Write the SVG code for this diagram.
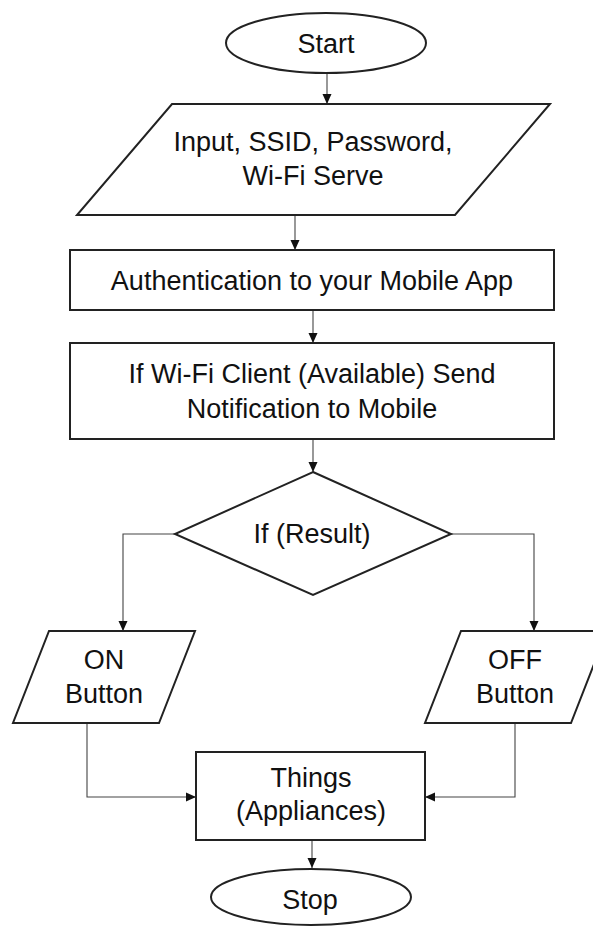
<svg xmlns="http://www.w3.org/2000/svg" width="593" height="926" viewBox="0 0 593 926">
<style>
.s{fill:#fff;stroke:#222;stroke-width:2}
.t{font-family:"Liberation Sans",Arial,sans-serif;font-size:27px;fill:#111;text-anchor:middle}
.c{fill:none;stroke:#444;stroke-width:1.1}
</style>
<defs>
<marker id="ah" markerWidth="12" markerHeight="12" refX="10" refY="5.5" orient="auto" markerUnits="userSpaceOnUse">
<path d="M0,1 L10,5.5 L0,10 Z" fill="#111"/>
</marker>
</defs>
<rect width="593" height="926" fill="#fff"/>
<g id="connectors">
<path class="c" d="M327,73 V104" marker-end="url(#ah)"/>
<path class="c" d="M295,215 V250" marker-end="url(#ah)"/>
<path class="c" d="M313,310 V343" marker-end="url(#ah)"/>
<path class="c" d="M313,439 V472" marker-end="url(#ah)"/>
<path class="c" d="M175,534 H123 V631" marker-end="url(#ah)"/>
<path class="c" d="M451,534 H534 V631" marker-end="url(#ah)"/>
<path class="c" d="M87,723 V797 H196" marker-end="url(#ah)"/>
<path class="c" d="M515,723 V797 H425" marker-end="url(#ah)"/>
<path class="c" d="M312,840 V868" marker-end="url(#ah)"/>
</g>
<g id="start">
<ellipse class="s" cx="326" cy="43" rx="100" ry="30"/>
<text class="t" x="326" y="53">Start</text>
</g>
<g id="input">
<polygon class="s" points="172,104 550,104 455,215 77,215"/>
<text class="t" x="313" y="151">Input, SSID, Password,</text>
<text class="t" x="313" y="185">Wi-Fi Serve</text>
</g>
<g id="auth">
<rect class="s" x="70" y="250" width="484" height="60"/>
<text class="t" x="312" y="290">Authentication to your Mobile App</text>
</g>
<g id="notify">
<rect class="s" x="70" y="343" width="484" height="96"/>
<text class="t" x="312" y="383">If Wi-Fi Client (Available) Send</text>
<text class="t" x="312" y="418">Notification to Mobile</text>
</g>
<g id="decision">
<polygon class="s" points="313,472 451,534 313,595 175,534"/>
<text class="t" x="312" y="543">If (Result)</text>
</g>
<g id="on">
<polygon class="s" points="49,631 195,631 159,723 13,723"/>
<text class="t" x="104" y="669">ON</text>
<text class="t" x="104" y="703">Button</text>
</g>
<g id="off">
<polygon class="s" points="461,631 607,631 571,723 425,723"/>
<text class="t" x="515" y="669">OFF</text>
<text class="t" x="515" y="703">Button</text>
</g>
<g id="things">
<rect class="s" x="196" y="752" width="229" height="88"/>
<text class="t" x="311" y="787">Things</text>
<text class="t" x="311" y="820">(Appliances)</text>
</g>
<g id="stop">
<ellipse class="s" cx="311" cy="897" rx="100" ry="28"/>
<text class="t" x="310" y="909">Stop</text>
</g>
</svg>
